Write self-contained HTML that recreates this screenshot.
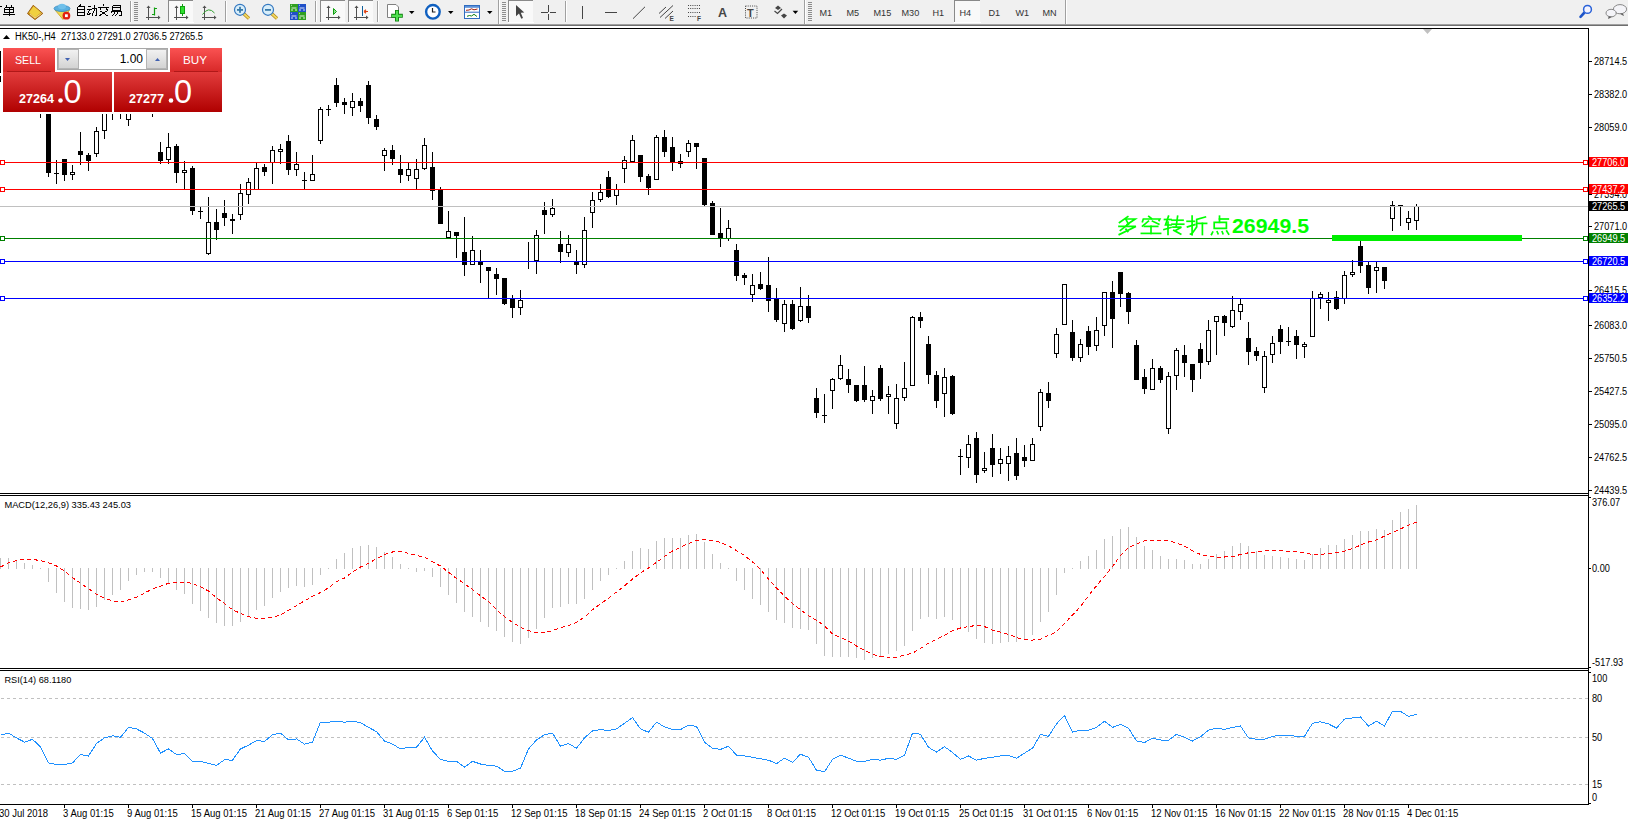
<!DOCTYPE html>
<html><head><meta charset="utf-8">
<style>
html,body{margin:0;padding:0;width:1628px;height:825px;overflow:hidden;background:#fff;}
svg{display:block;position:absolute;left:0;top:0;}
text{font-family:"Liberation Sans", sans-serif;}
</style></head><body>
<svg width="1628" height="825" viewBox="0 0 1628 825">
<rect x="0" y="0" width="1628" height="825" fill="#fff"/>

<rect x="0" y="0" width="1628" height="24" fill="#f0f0f0"/>
<rect x="0" y="24" width="1628" height="1" fill="#a0a0a0"/>
<rect x="0" y="25" width="1628" height="1" fill="#6e6e6e"/>
<rect x="0" y="28" width="1588" height="1" fill="#000"/>
<g shape-rendering="crispEdges" fill="#000">
<rect x="1588" y="28" width="1" height="777"/>
<rect x="0" y="493" width="1589" height="1"/>
<rect x="0" y="495" width="1589" height="1"/>
<rect x="0" y="668" width="1589" height="1"/>
<rect x="0" y="670" width="1589" height="1"/>
<rect x="0" y="804" width="1589" height="1"/>
</g>
<g shape-rendering="crispEdges" fill="#000"><rect x="40" y="100" width="1" height="18"/><rect x="38" y="100" width="5" height="5"/><rect x="48" y="90" width="1" height="87"/><rect x="46" y="95" width="5" height="78"/><rect x="56" y="160" width="1" height="24"/><rect x="54" y="173" width="5" height="1"/><rect x="64" y="159" width="1" height="22"/><rect x="62" y="159" width="5" height="16"/><rect x="70" y="172" width="5" height="1"/><rect x="70" y="174" width="5" height="1"/><rect x="70" y="172" width="1" height="3"/><rect x="74" y="172" width="1" height="3"/><rect x="72" y="165" width="1" height="7"/><rect x="72" y="175" width="1" height="5"/><rect x="80" y="132" width="1" height="33"/><rect x="78" y="151" width="5" height="4"/><rect x="88" y="153" width="1" height="18"/><rect x="86" y="155" width="5" height="6"/><rect x="94" y="131" width="5" height="1"/><rect x="94" y="153" width="5" height="1"/><rect x="94" y="131" width="1" height="23"/><rect x="98" y="131" width="1" height="23"/><rect x="96" y="127" width="1" height="4"/><rect x="96" y="154" width="1" height="3"/><rect x="102" y="100" width="5" height="1"/><rect x="102" y="130" width="5" height="1"/><rect x="102" y="100" width="1" height="31"/><rect x="106" y="100" width="1" height="31"/><rect x="104" y="90" width="1" height="10"/><rect x="104" y="131" width="1" height="8"/><rect x="112" y="90" width="1" height="30"/><rect x="110" y="95" width="5" height="10"/><rect x="120" y="90" width="1" height="29"/><rect x="118" y="95" width="5" height="10"/><rect x="126" y="100" width="5" height="1"/><rect x="126" y="119" width="5" height="1"/><rect x="126" y="100" width="1" height="20"/><rect x="130" y="100" width="1" height="20"/><rect x="128" y="90" width="1" height="10"/><rect x="128" y="120" width="1" height="6"/><rect x="152" y="90" width="1" height="27"/><rect x="150" y="95" width="5" height="10"/><rect x="160" y="142" width="1" height="22"/><rect x="158" y="152" width="5" height="9"/><rect x="166" y="147" width="5" height="1"/><rect x="166" y="159" width="5" height="1"/><rect x="166" y="147" width="1" height="13"/><rect x="170" y="147" width="1" height="13"/><rect x="168" y="133" width="1" height="14"/><rect x="168" y="160" width="1" height="4"/><rect x="176" y="144" width="1" height="39"/><rect x="174" y="146" width="5" height="27"/><rect x="182" y="170" width="5" height="1"/><rect x="182" y="172" width="5" height="1"/><rect x="182" y="170" width="1" height="3"/><rect x="186" y="170" width="1" height="3"/><rect x="184" y="161" width="1" height="9"/><rect x="184" y="173" width="1" height="16"/><rect x="192" y="166" width="1" height="49"/><rect x="190" y="168" width="5" height="43"/><rect x="200" y="206" width="1" height="13"/><rect x="198" y="211" width="5" height="1"/><rect x="206" y="222" width="5" height="1"/><rect x="206" y="253" width="5" height="1"/><rect x="206" y="222" width="1" height="32"/><rect x="210" y="222" width="1" height="32"/><rect x="208" y="197" width="1" height="25"/><rect x="208" y="254" width="1" height="1"/><rect x="216" y="209" width="1" height="31"/><rect x="214" y="222" width="5" height="8"/><rect x="224" y="200" width="1" height="26"/><rect x="222" y="213" width="5" height="5"/><rect x="232" y="214" width="1" height="20"/><rect x="230" y="219" width="5" height="2"/><rect x="238" y="193" width="5" height="1"/><rect x="238" y="214" width="5" height="1"/><rect x="238" y="193" width="1" height="22"/><rect x="242" y="193" width="1" height="22"/><rect x="240" y="184" width="1" height="9"/><rect x="240" y="215" width="1" height="5"/><rect x="246" y="182" width="5" height="1"/><rect x="246" y="194" width="5" height="1"/><rect x="246" y="182" width="1" height="13"/><rect x="250" y="182" width="1" height="13"/><rect x="248" y="178" width="1" height="4"/><rect x="248" y="195" width="1" height="9"/><rect x="254" y="168" width="5" height="1"/><rect x="254" y="189" width="5" height="1"/><rect x="254" y="168" width="1" height="22"/><rect x="258" y="168" width="1" height="22"/><rect x="256" y="163" width="1" height="5"/><rect x="264" y="164" width="1" height="12"/><rect x="262" y="167" width="5" height="5"/><rect x="270" y="150" width="5" height="1"/><rect x="270" y="162" width="5" height="1"/><rect x="270" y="150" width="1" height="13"/><rect x="274" y="150" width="1" height="13"/><rect x="272" y="146" width="1" height="4"/><rect x="272" y="163" width="1" height="21"/><rect x="278" y="149" width="5" height="1"/><rect x="278" y="151" width="5" height="1"/><rect x="278" y="149" width="1" height="3"/><rect x="282" y="149" width="1" height="3"/><rect x="280" y="144" width="1" height="5"/><rect x="280" y="152" width="1" height="12"/><rect x="288" y="135" width="1" height="40"/><rect x="286" y="141" width="5" height="29"/><rect x="294" y="164" width="5" height="1"/><rect x="294" y="169" width="5" height="1"/><rect x="294" y="164" width="1" height="6"/><rect x="298" y="164" width="1" height="6"/><rect x="296" y="152" width="1" height="12"/><rect x="296" y="170" width="1" height="6"/><rect x="304" y="172" width="1" height="18"/><rect x="302" y="180" width="5" height="1"/><rect x="310" y="174" width="5" height="1"/><rect x="310" y="180" width="5" height="1"/><rect x="310" y="174" width="1" height="7"/><rect x="314" y="174" width="1" height="7"/><rect x="312" y="155" width="1" height="19"/><rect x="318" y="109" width="5" height="1"/><rect x="318" y="140" width="5" height="1"/><rect x="318" y="109" width="1" height="32"/><rect x="322" y="109" width="1" height="32"/><rect x="320" y="107" width="1" height="2"/><rect x="320" y="141" width="1" height="3"/><rect x="328" y="105" width="1" height="11"/><rect x="326" y="109" width="5" height="1"/><rect x="336" y="78" width="1" height="29"/><rect x="334" y="85" width="5" height="18"/><rect x="344" y="98" width="1" height="16"/><rect x="342" y="102" width="5" height="3"/><rect x="350" y="101" width="5" height="1"/><rect x="350" y="107" width="5" height="1"/><rect x="350" y="101" width="1" height="7"/><rect x="354" y="101" width="1" height="7"/><rect x="352" y="93" width="1" height="8"/><rect x="352" y="108" width="1" height="8"/><rect x="360" y="98" width="1" height="14"/><rect x="358" y="101" width="5" height="5"/><rect x="368" y="81" width="1" height="43"/><rect x="366" y="85" width="5" height="33"/><rect x="376" y="115" width="1" height="15"/><rect x="374" y="119" width="5" height="8"/><rect x="382" y="150" width="5" height="1"/><rect x="382" y="155" width="5" height="1"/><rect x="382" y="150" width="1" height="6"/><rect x="386" y="150" width="1" height="6"/><rect x="384" y="148" width="1" height="2"/><rect x="384" y="156" width="1" height="15"/><rect x="392" y="145" width="1" height="20"/><rect x="390" y="150" width="5" height="9"/><rect x="400" y="155" width="1" height="28"/><rect x="398" y="169" width="5" height="6"/><rect x="406" y="169" width="5" height="1"/><rect x="406" y="175" width="5" height="1"/><rect x="406" y="169" width="1" height="7"/><rect x="410" y="169" width="1" height="7"/><rect x="408" y="163" width="1" height="6"/><rect x="408" y="176" width="1" height="5"/><rect x="414" y="169" width="5" height="1"/><rect x="414" y="178" width="5" height="1"/><rect x="414" y="169" width="1" height="10"/><rect x="418" y="169" width="1" height="10"/><rect x="416" y="159" width="1" height="10"/><rect x="416" y="179" width="1" height="10"/><rect x="422" y="145" width="5" height="1"/><rect x="422" y="168" width="5" height="1"/><rect x="422" y="145" width="1" height="24"/><rect x="426" y="145" width="1" height="24"/><rect x="424" y="138" width="1" height="7"/><rect x="424" y="169" width="1" height="1"/><rect x="432" y="152" width="1" height="48"/><rect x="430" y="167" width="5" height="24"/><rect x="440" y="187" width="1" height="37"/><rect x="438" y="190" width="5" height="34"/><rect x="446" y="231" width="5" height="1"/><rect x="446" y="237" width="5" height="1"/><rect x="446" y="231" width="1" height="7"/><rect x="450" y="231" width="1" height="7"/><rect x="448" y="211" width="1" height="20"/><rect x="456" y="232" width="1" height="26"/><rect x="454" y="232" width="5" height="4"/><rect x="464" y="217" width="1" height="59"/><rect x="462" y="252" width="5" height="13"/><rect x="470" y="250" width="5" height="1"/><rect x="470" y="264" width="5" height="1"/><rect x="470" y="250" width="1" height="15"/><rect x="474" y="250" width="1" height="15"/><rect x="472" y="236" width="1" height="14"/><rect x="480" y="250" width="1" height="33"/><rect x="478" y="262" width="5" height="3"/><rect x="488" y="267" width="1" height="31"/><rect x="486" y="267" width="5" height="4"/><rect x="496" y="268" width="1" height="27"/><rect x="494" y="274" width="5" height="5"/><rect x="504" y="278" width="1" height="27"/><rect x="502" y="278" width="5" height="26"/><rect x="512" y="295" width="1" height="23"/><rect x="510" y="298" width="5" height="10"/><rect x="518" y="300" width="5" height="1"/><rect x="518" y="307" width="5" height="1"/><rect x="518" y="300" width="1" height="8"/><rect x="522" y="300" width="1" height="8"/><rect x="520" y="290" width="1" height="10"/><rect x="520" y="308" width="1" height="7"/><rect x="528" y="242" width="1" height="27"/><rect x="526" y="261" width="5" height="1"/><rect x="534" y="235" width="5" height="1"/><rect x="534" y="260" width="5" height="1"/><rect x="534" y="235" width="1" height="26"/><rect x="538" y="235" width="1" height="26"/><rect x="536" y="230" width="1" height="5"/><rect x="536" y="261" width="1" height="13"/><rect x="544" y="202" width="1" height="32"/><rect x="542" y="210" width="5" height="5"/><rect x="550" y="208" width="5" height="1"/><rect x="550" y="214" width="5" height="1"/><rect x="550" y="208" width="1" height="7"/><rect x="554" y="208" width="1" height="7"/><rect x="552" y="199" width="1" height="9"/><rect x="552" y="215" width="1" height="2"/><rect x="560" y="231" width="1" height="32"/><rect x="558" y="244" width="5" height="8"/><rect x="566" y="244" width="5" height="1"/><rect x="566" y="252" width="5" height="1"/><rect x="566" y="244" width="1" height="9"/><rect x="570" y="244" width="1" height="9"/><rect x="568" y="235" width="1" height="9"/><rect x="568" y="253" width="1" height="4"/><rect x="576" y="250" width="1" height="24"/><rect x="574" y="262" width="5" height="3"/><rect x="582" y="230" width="5" height="1"/><rect x="582" y="264" width="5" height="1"/><rect x="582" y="230" width="1" height="35"/><rect x="586" y="230" width="1" height="35"/><rect x="584" y="217" width="1" height="13"/><rect x="584" y="265" width="1" height="3"/><rect x="590" y="200" width="5" height="1"/><rect x="590" y="212" width="5" height="1"/><rect x="590" y="200" width="1" height="13"/><rect x="594" y="200" width="1" height="13"/><rect x="592" y="192" width="1" height="8"/><rect x="592" y="213" width="1" height="15"/><rect x="598" y="192" width="5" height="1"/><rect x="598" y="199" width="5" height="1"/><rect x="598" y="192" width="1" height="8"/><rect x="602" y="192" width="1" height="8"/><rect x="600" y="184" width="1" height="8"/><rect x="600" y="200" width="1" height="2"/><rect x="608" y="171" width="1" height="27"/><rect x="606" y="177" width="5" height="20"/><rect x="614" y="189" width="5" height="1"/><rect x="614" y="195" width="5" height="1"/><rect x="614" y="189" width="1" height="7"/><rect x="618" y="189" width="1" height="7"/><rect x="616" y="184" width="1" height="5"/><rect x="616" y="196" width="1" height="9"/><rect x="622" y="160" width="5" height="1"/><rect x="622" y="168" width="5" height="1"/><rect x="622" y="160" width="1" height="9"/><rect x="626" y="160" width="1" height="9"/><rect x="624" y="156" width="1" height="4"/><rect x="624" y="169" width="1" height="14"/><rect x="630" y="140" width="5" height="1"/><rect x="630" y="161" width="5" height="1"/><rect x="630" y="140" width="1" height="22"/><rect x="634" y="140" width="1" height="22"/><rect x="632" y="135" width="1" height="5"/><rect x="640" y="155" width="1" height="27"/><rect x="638" y="155" width="5" height="22"/><rect x="648" y="174" width="1" height="21"/><rect x="646" y="176" width="5" height="12"/><rect x="654" y="137" width="5" height="1"/><rect x="654" y="179" width="5" height="1"/><rect x="654" y="137" width="1" height="43"/><rect x="658" y="137" width="1" height="43"/><rect x="656" y="135" width="1" height="2"/><rect x="664" y="130" width="1" height="27"/><rect x="662" y="137" width="5" height="15"/><rect x="672" y="137" width="1" height="34"/><rect x="670" y="147" width="5" height="16"/><rect x="680" y="154" width="1" height="14"/><rect x="678" y="161" width="5" height="3"/><rect x="686" y="143" width="5" height="1"/><rect x="686" y="151" width="5" height="1"/><rect x="686" y="143" width="1" height="9"/><rect x="690" y="143" width="1" height="9"/><rect x="688" y="140" width="1" height="3"/><rect x="688" y="152" width="1" height="5"/><rect x="696" y="143" width="1" height="26"/><rect x="694" y="143" width="5" height="4"/><rect x="704" y="158" width="1" height="48"/><rect x="702" y="158" width="5" height="47"/><rect x="712" y="201" width="1" height="34"/><rect x="710" y="203" width="5" height="32"/><rect x="720" y="208" width="1" height="39"/><rect x="718" y="233" width="5" height="6"/><rect x="726" y="228" width="5" height="1"/><rect x="726" y="238" width="5" height="1"/><rect x="726" y="228" width="1" height="11"/><rect x="730" y="228" width="1" height="11"/><rect x="728" y="220" width="1" height="8"/><rect x="728" y="239" width="1" height="2"/><rect x="736" y="244" width="1" height="37"/><rect x="734" y="250" width="5" height="26"/><rect x="744" y="273" width="1" height="12"/><rect x="742" y="275" width="5" height="3"/><rect x="750" y="285" width="5" height="1"/><rect x="750" y="294" width="5" height="1"/><rect x="750" y="285" width="1" height="10"/><rect x="754" y="285" width="1" height="10"/><rect x="752" y="274" width="1" height="11"/><rect x="752" y="295" width="1" height="7"/><rect x="760" y="272" width="1" height="18"/><rect x="758" y="284" width="5" height="5"/><rect x="768" y="257" width="1" height="55"/><rect x="766" y="285" width="5" height="16"/><rect x="776" y="288" width="1" height="34"/><rect x="774" y="299" width="5" height="21"/><rect x="782" y="304" width="5" height="1"/><rect x="782" y="323" width="5" height="1"/><rect x="782" y="304" width="1" height="20"/><rect x="786" y="304" width="1" height="20"/><rect x="784" y="300" width="1" height="4"/><rect x="784" y="324" width="1" height="8"/><rect x="792" y="300" width="1" height="30"/><rect x="790" y="304" width="5" height="25"/><rect x="798" y="306" width="5" height="1"/><rect x="798" y="320" width="5" height="1"/><rect x="798" y="306" width="1" height="15"/><rect x="802" y="306" width="1" height="15"/><rect x="800" y="287" width="1" height="19"/><rect x="800" y="321" width="1" height="1"/><rect x="808" y="295" width="1" height="28"/><rect x="806" y="306" width="5" height="12"/><rect x="816" y="388" width="1" height="30"/><rect x="814" y="398" width="5" height="15"/><rect x="824" y="394" width="1" height="29"/><rect x="822" y="415" width="5" height="1"/><rect x="830" y="379" width="5" height="1"/><rect x="830" y="390" width="5" height="1"/><rect x="830" y="379" width="1" height="12"/><rect x="834" y="379" width="1" height="12"/><rect x="832" y="378" width="1" height="1"/><rect x="832" y="391" width="1" height="18"/><rect x="838" y="365" width="5" height="1"/><rect x="838" y="378" width="5" height="1"/><rect x="838" y="365" width="1" height="14"/><rect x="842" y="365" width="1" height="14"/><rect x="840" y="355" width="1" height="10"/><rect x="840" y="379" width="1" height="1"/><rect x="848" y="369" width="1" height="24"/><rect x="846" y="379" width="5" height="6"/><rect x="856" y="385" width="1" height="17"/><rect x="854" y="385" width="5" height="16"/><rect x="864" y="366" width="1" height="36"/><rect x="862" y="385" width="5" height="15"/><rect x="870" y="396" width="5" height="1"/><rect x="870" y="400" width="5" height="1"/><rect x="870" y="396" width="1" height="5"/><rect x="874" y="396" width="1" height="5"/><rect x="872" y="390" width="1" height="6"/><rect x="872" y="401" width="1" height="13"/><rect x="880" y="365" width="1" height="36"/><rect x="878" y="368" width="5" height="31"/><rect x="886" y="394" width="5" height="1"/><rect x="886" y="396" width="5" height="1"/><rect x="886" y="394" width="1" height="3"/><rect x="890" y="394" width="1" height="3"/><rect x="888" y="386" width="1" height="8"/><rect x="888" y="397" width="1" height="17"/><rect x="894" y="398" width="5" height="1"/><rect x="894" y="423" width="5" height="1"/><rect x="894" y="398" width="1" height="26"/><rect x="898" y="398" width="1" height="26"/><rect x="896" y="384" width="1" height="14"/><rect x="896" y="424" width="1" height="5"/><rect x="902" y="388" width="5" height="1"/><rect x="902" y="397" width="5" height="1"/><rect x="902" y="388" width="1" height="10"/><rect x="906" y="388" width="1" height="10"/><rect x="904" y="362" width="1" height="26"/><rect x="904" y="398" width="1" height="3"/><rect x="910" y="317" width="5" height="1"/><rect x="910" y="385" width="5" height="1"/><rect x="910" y="317" width="1" height="69"/><rect x="914" y="317" width="1" height="69"/><rect x="912" y="316" width="1" height="1"/><rect x="920" y="312" width="1" height="16"/><rect x="918" y="317" width="5" height="4"/><rect x="928" y="336" width="1" height="48"/><rect x="926" y="344" width="5" height="31"/><rect x="936" y="371" width="1" height="37"/><rect x="934" y="375" width="5" height="26"/><rect x="942" y="377" width="5" height="1"/><rect x="942" y="393" width="5" height="1"/><rect x="942" y="377" width="1" height="17"/><rect x="946" y="377" width="1" height="17"/><rect x="944" y="368" width="1" height="9"/><rect x="944" y="394" width="1" height="23"/><rect x="952" y="375" width="1" height="40"/><rect x="950" y="376" width="5" height="38"/><rect x="960" y="449" width="1" height="26"/><rect x="958" y="456" width="5" height="1"/><rect x="966" y="444" width="5" height="1"/><rect x="966" y="457" width="5" height="1"/><rect x="966" y="444" width="1" height="14"/><rect x="970" y="444" width="1" height="14"/><rect x="968" y="435" width="1" height="9"/><rect x="968" y="458" width="1" height="10"/><rect x="976" y="432" width="1" height="51"/><rect x="974" y="438" width="5" height="37"/><rect x="982" y="468" width="5" height="1"/><rect x="982" y="470" width="5" height="1"/><rect x="982" y="468" width="1" height="3"/><rect x="986" y="468" width="1" height="3"/><rect x="984" y="452" width="1" height="16"/><rect x="984" y="471" width="1" height="2"/><rect x="992" y="434" width="1" height="43"/><rect x="990" y="448" width="5" height="17"/><rect x="998" y="459" width="5" height="1"/><rect x="998" y="463" width="5" height="1"/><rect x="998" y="459" width="1" height="5"/><rect x="1002" y="459" width="1" height="5"/><rect x="1000" y="448" width="1" height="11"/><rect x="1000" y="464" width="1" height="10"/><rect x="1006" y="456" width="5" height="1"/><rect x="1006" y="463" width="5" height="1"/><rect x="1006" y="456" width="1" height="8"/><rect x="1010" y="456" width="1" height="8"/><rect x="1008" y="446" width="1" height="10"/><rect x="1008" y="464" width="1" height="17"/><rect x="1016" y="438" width="1" height="42"/><rect x="1014" y="453" width="5" height="23"/><rect x="1024" y="445" width="1" height="22"/><rect x="1022" y="457" width="5" height="4"/><rect x="1030" y="444" width="5" height="1"/><rect x="1030" y="460" width="5" height="1"/><rect x="1030" y="444" width="1" height="17"/><rect x="1034" y="444" width="1" height="17"/><rect x="1032" y="438" width="1" height="6"/><rect x="1038" y="392" width="5" height="1"/><rect x="1038" y="426" width="5" height="1"/><rect x="1038" y="392" width="1" height="35"/><rect x="1042" y="392" width="1" height="35"/><rect x="1040" y="389" width="1" height="3"/><rect x="1040" y="427" width="1" height="4"/><rect x="1048" y="382" width="1" height="26"/><rect x="1046" y="393" width="5" height="8"/><rect x="1054" y="334" width="5" height="1"/><rect x="1054" y="353" width="5" height="1"/><rect x="1054" y="334" width="1" height="20"/><rect x="1058" y="334" width="1" height="20"/><rect x="1056" y="328" width="1" height="6"/><rect x="1056" y="354" width="1" height="4"/><rect x="1062" y="284" width="5" height="1"/><rect x="1062" y="324" width="5" height="1"/><rect x="1062" y="284" width="1" height="41"/><rect x="1066" y="284" width="1" height="41"/><rect x="1072" y="320" width="1" height="41"/><rect x="1070" y="332" width="5" height="26"/><rect x="1078" y="344" width="5" height="1"/><rect x="1078" y="357" width="5" height="1"/><rect x="1078" y="344" width="1" height="14"/><rect x="1082" y="344" width="1" height="14"/><rect x="1080" y="339" width="1" height="5"/><rect x="1080" y="358" width="1" height="4"/><rect x="1088" y="326" width="1" height="29"/><rect x="1086" y="331" width="5" height="16"/><rect x="1094" y="330" width="5" height="1"/><rect x="1094" y="345" width="5" height="1"/><rect x="1094" y="330" width="1" height="16"/><rect x="1098" y="330" width="1" height="16"/><rect x="1096" y="317" width="1" height="13"/><rect x="1096" y="346" width="1" height="5"/><rect x="1102" y="292" width="5" height="1"/><rect x="1102" y="325" width="5" height="1"/><rect x="1102" y="292" width="1" height="34"/><rect x="1106" y="292" width="1" height="34"/><rect x="1104" y="326" width="1" height="10"/><rect x="1112" y="281" width="1" height="67"/><rect x="1110" y="292" width="5" height="27"/><rect x="1120" y="272" width="1" height="35"/><rect x="1118" y="272" width="5" height="22"/><rect x="1128" y="292" width="1" height="32"/><rect x="1126" y="293" width="5" height="19"/><rect x="1136" y="340" width="1" height="40"/><rect x="1134" y="345" width="5" height="35"/><rect x="1144" y="369" width="1" height="25"/><rect x="1142" y="377" width="5" height="12"/><rect x="1150" y="368" width="5" height="1"/><rect x="1150" y="389" width="5" height="1"/><rect x="1150" y="368" width="1" height="22"/><rect x="1154" y="368" width="1" height="22"/><rect x="1152" y="359" width="1" height="9"/><rect x="1160" y="366" width="1" height="17"/><rect x="1158" y="368" width="5" height="12"/><rect x="1166" y="376" width="5" height="1"/><rect x="1166" y="428" width="5" height="1"/><rect x="1166" y="376" width="1" height="53"/><rect x="1170" y="376" width="1" height="53"/><rect x="1168" y="372" width="1" height="4"/><rect x="1168" y="429" width="1" height="5"/><rect x="1174" y="350" width="5" height="1"/><rect x="1174" y="375" width="5" height="1"/><rect x="1174" y="350" width="1" height="26"/><rect x="1178" y="350" width="1" height="26"/><rect x="1176" y="348" width="1" height="2"/><rect x="1176" y="376" width="1" height="14"/><rect x="1184" y="345" width="1" height="32"/><rect x="1182" y="355" width="5" height="8"/><rect x="1192" y="364" width="1" height="28"/><rect x="1190" y="364" width="5" height="16"/><rect x="1200" y="343" width="1" height="36"/><rect x="1198" y="349" width="5" height="14"/><rect x="1206" y="330" width="5" height="1"/><rect x="1206" y="361" width="5" height="1"/><rect x="1206" y="330" width="1" height="32"/><rect x="1210" y="330" width="1" height="32"/><rect x="1208" y="320" width="1" height="10"/><rect x="1208" y="362" width="1" height="3"/><rect x="1214" y="316" width="5" height="1"/><rect x="1214" y="321" width="5" height="1"/><rect x="1214" y="316" width="1" height="6"/><rect x="1218" y="316" width="1" height="6"/><rect x="1216" y="322" width="1" height="33"/><rect x="1224" y="315" width="1" height="21"/><rect x="1222" y="316" width="5" height="7"/><rect x="1230" y="310" width="5" height="1"/><rect x="1230" y="326" width="5" height="1"/><rect x="1230" y="310" width="1" height="17"/><rect x="1234" y="310" width="1" height="17"/><rect x="1232" y="296" width="1" height="14"/><rect x="1232" y="327" width="1" height="1"/><rect x="1238" y="304" width="5" height="1"/><rect x="1238" y="311" width="5" height="1"/><rect x="1238" y="304" width="1" height="8"/><rect x="1242" y="304" width="1" height="8"/><rect x="1240" y="299" width="1" height="5"/><rect x="1240" y="312" width="1" height="8"/><rect x="1248" y="322" width="1" height="43"/><rect x="1246" y="338" width="5" height="14"/><rect x="1256" y="347" width="1" height="14"/><rect x="1254" y="351" width="5" height="5"/><rect x="1262" y="356" width="5" height="1"/><rect x="1262" y="387" width="5" height="1"/><rect x="1262" y="356" width="1" height="32"/><rect x="1266" y="356" width="1" height="32"/><rect x="1264" y="351" width="1" height="5"/><rect x="1264" y="388" width="1" height="5"/><rect x="1270" y="343" width="5" height="1"/><rect x="1270" y="354" width="5" height="1"/><rect x="1270" y="343" width="1" height="12"/><rect x="1274" y="343" width="1" height="12"/><rect x="1272" y="336" width="1" height="7"/><rect x="1272" y="355" width="1" height="8"/><rect x="1280" y="325" width="1" height="29"/><rect x="1278" y="329" width="5" height="13"/><rect x="1288" y="327" width="1" height="19"/><rect x="1286" y="341" width="5" height="1"/><rect x="1296" y="330" width="1" height="29"/><rect x="1294" y="336" width="5" height="9"/><rect x="1302" y="344" width="5" height="1"/><rect x="1302" y="346" width="5" height="1"/><rect x="1302" y="344" width="1" height="3"/><rect x="1306" y="344" width="1" height="3"/><rect x="1304" y="342" width="1" height="2"/><rect x="1304" y="347" width="1" height="11"/><rect x="1310" y="298" width="5" height="1"/><rect x="1310" y="336" width="5" height="1"/><rect x="1310" y="298" width="1" height="39"/><rect x="1314" y="298" width="1" height="39"/><rect x="1312" y="291" width="1" height="7"/><rect x="1318" y="294" width="5" height="1"/><rect x="1318" y="297" width="5" height="1"/><rect x="1318" y="294" width="1" height="4"/><rect x="1322" y="294" width="1" height="4"/><rect x="1320" y="292" width="1" height="2"/><rect x="1320" y="298" width="1" height="11"/><rect x="1326" y="300" width="5" height="1"/><rect x="1326" y="302" width="5" height="1"/><rect x="1326" y="300" width="1" height="3"/><rect x="1330" y="300" width="1" height="3"/><rect x="1328" y="292" width="1" height="8"/><rect x="1328" y="303" width="1" height="18"/><rect x="1336" y="291" width="1" height="19"/><rect x="1334" y="297" width="5" height="12"/><rect x="1342" y="275" width="5" height="1"/><rect x="1342" y="298" width="5" height="1"/><rect x="1342" y="275" width="1" height="24"/><rect x="1346" y="275" width="1" height="24"/><rect x="1344" y="271" width="1" height="4"/><rect x="1344" y="299" width="1" height="5"/><rect x="1350" y="272" width="5" height="1"/><rect x="1350" y="274" width="5" height="1"/><rect x="1350" y="272" width="1" height="3"/><rect x="1354" y="272" width="1" height="3"/><rect x="1352" y="260" width="1" height="12"/><rect x="1352" y="275" width="1" height="2"/><rect x="1360" y="241" width="1" height="32"/><rect x="1358" y="246" width="5" height="20"/><rect x="1368" y="262" width="1" height="32"/><rect x="1366" y="265" width="5" height="23"/><rect x="1374" y="267" width="5" height="1"/><rect x="1374" y="270" width="5" height="1"/><rect x="1374" y="267" width="1" height="4"/><rect x="1378" y="267" width="1" height="4"/><rect x="1376" y="262" width="1" height="5"/><rect x="1376" y="271" width="1" height="22"/><rect x="1384" y="267" width="1" height="22"/><rect x="1382" y="267" width="5" height="14"/><rect x="1390" y="205" width="5" height="1"/><rect x="1390" y="218" width="5" height="1"/><rect x="1390" y="205" width="1" height="14"/><rect x="1394" y="205" width="1" height="14"/><rect x="1392" y="201" width="1" height="4"/><rect x="1392" y="219" width="1" height="12"/><rect x="1400" y="205" width="1" height="21"/><rect x="1398" y="205" width="5" height="1"/><rect x="1406" y="218" width="5" height="1"/><rect x="1406" y="222" width="5" height="1"/><rect x="1406" y="218" width="1" height="5"/><rect x="1410" y="218" width="1" height="5"/><rect x="1408" y="211" width="1" height="7"/><rect x="1408" y="223" width="1" height="7"/><rect x="1414" y="206" width="5" height="1"/><rect x="1414" y="220" width="5" height="1"/><rect x="1414" y="206" width="1" height="15"/><rect x="1418" y="206" width="1" height="15"/><rect x="1416" y="204" width="1" height="2"/><rect x="1416" y="221" width="1" height="9"/></g>
<rect x="0" y="51" width="1" height="22" fill="#000"/><rect x="0" y="76" width="1" height="6" fill="#000"/>
<g shape-rendering="crispEdges">
<rect x="0" y="206" width="1588" height="1" fill="#c0c0c0"/>
<rect x="0" y="162" width="1588" height="1" fill="#ff0000"/>
<rect x="0" y="189" width="1588" height="1" fill="#ff0000"/>
<rect x="0" y="238" width="1588" height="1" fill="#008000"/>
<rect x="0" y="261" width="1588" height="1" fill="#0000ff"/>
<rect x="0" y="298" width="1588" height="1" fill="#0000ff"/>
</g>
<g shape-rendering="crispEdges" fill="#fff">
<rect x="0.5" y="160.5" width="4" height="4" stroke="#ff0000"/>
<rect x="1583.5" y="160.5" width="4" height="4" stroke="#ff0000"/>
<rect x="0.5" y="187.5" width="4" height="4" stroke="#ff0000"/>
<rect x="1583.5" y="187.5" width="4" height="4" stroke="#ff0000"/>
<rect x="0.5" y="236.5" width="4" height="4" stroke="#008000"/>
<rect x="1583.5" y="236.5" width="4" height="4" stroke="#008000"/>
<rect x="0.5" y="259.5" width="4" height="4" stroke="#0000ff"/>
<rect x="1583.5" y="259.5" width="4" height="4" stroke="#0000ff"/>
<rect x="0.5" y="296.5" width="4" height="4" stroke="#0000ff"/>
<rect x="1583.5" y="296.5" width="4" height="4" stroke="#0000ff"/>
</g>
<rect x="1332" y="235" width="190" height="6" fill="#00ee00"/>
<g fill="none" stroke="#00ff00" stroke-width="1.7" stroke-linecap="square" stroke-linejoin="miter"><polyline points="1127.8,216.6 1119.5,222.5"/><polyline points="1126.7,219.0 1135.2,219.0 1127.1,224.5"/><polyline points="1126.0,219.7 1128.5,224.2"/><polyline points="1119.0,226.4 1135.9,226.4 1119.3,234.5"/><polyline points="1120.4,230.4 1127.4,224.9"/><polyline points="1126.0,229.3 1127.8,231.5"/><polyline points="1148.8,216.4 1151.4,218.5"/><polyline points="1142.5,221.6 1143.3,219.0 1159.9,219.0 1159.1,220.5"/><polyline points="1148.4,221.2 1142.5,226.0"/><polyline points="1152.5,221.2 1158.8,224.2"/><polyline points="1144.4,226.4 1157.7,226.4"/><polyline points="1151.0,226.4 1151.0,233.4"/><polyline points="1141.4,233.4 1160.6,233.4"/><polyline points="1164.5,219.5 1171.0,219.5"/><polyline points="1168.5,216.2 1165.5,225.0 1171.0,225.0"/><polyline points="1168.0,222.0 1168.0,234.5"/><polyline points="1164.0,229.5 1171.0,227.5"/><polyline points="1172.0,220.2 1183.0,220.2"/><polyline points="1177.6,216.2 1176.1,227.0"/><polyline points="1172.0,224.2 1183.7,224.2"/><polyline points="1173.0,227.2 1181.4,227.2 1175.7,230.3"/><polyline points="1173.8,230.3 1180.7,234.1"/><polyline points="1187.1,221.3 1194.4,221.3"/><polyline points="1192.1,216.2 1192.1,234.5 1190.5,234.0"/><polyline points="1187.5,226.9 1194.8,224.6"/><polyline points="1205.4,217.0 1196.7,219.5 1196.7,227.0 1191.5,234.3"/><polyline points="1196.7,223.4 1206.6,223.4"/><polyline points="1202.4,223.4 1202.4,234.5"/><polyline points="1219.5,216.2 1219.5,222.3"/><polyline points="1219.5,219.0 1228.3,219.0"/><polyline points="1214.2,222.3 1226.4,222.3 1226.4,228.4 1214.2,228.4 1214.2,222.3"/><polyline points="1212.7,232.2 1211.5,234.5"/><polyline points="1217.2,231.8 1218.0,233.7"/><polyline points="1222.2,231.8 1222.9,233.7"/><polyline points="1226.7,231.0 1228.6,234.1"/></g><text x="1232" y="232.5" font-size="20.5" font-weight="bold" fill="#00ff00" textLength="77" lengthAdjust="spacingAndGlyphs">26949.5</text>
<g shape-rendering="crispEdges" fill="#c0c0c0"><rect x="0" y="558" width="1" height="11"/><rect x="8" y="558" width="1" height="11"/><rect x="16" y="560" width="1" height="9"/><rect x="24" y="563" width="1" height="6"/><rect x="32" y="565" width="1" height="4"/><rect x="40" y="568" width="1" height="1"/><rect x="48" y="568" width="1" height="14"/><rect x="56" y="568" width="1" height="25"/><rect x="64" y="568" width="1" height="34"/><rect x="72" y="568" width="1" height="40"/><rect x="80" y="568" width="1" height="41"/><rect x="88" y="568" width="1" height="42"/><rect x="96" y="568" width="1" height="39"/><rect x="104" y="568" width="1" height="32"/><rect x="112" y="568" width="1" height="27"/><rect x="120" y="568" width="1" height="22"/><rect x="128" y="568" width="1" height="13"/><rect x="136" y="568" width="1" height="7"/><rect x="144" y="568" width="1" height="4"/><rect x="152" y="568" width="1" height="4"/><rect x="160" y="568" width="1" height="10"/><rect x="168" y="568" width="1" height="15"/><rect x="176" y="568" width="1" height="22"/><rect x="184" y="568" width="1" height="26"/><rect x="192" y="568" width="1" height="36"/><rect x="200" y="568" width="1" height="43"/><rect x="208" y="568" width="1" height="50"/><rect x="216" y="568" width="1" height="55"/><rect x="224" y="568" width="1" height="58"/><rect x="232" y="568" width="1" height="58"/><rect x="240" y="568" width="1" height="54"/><rect x="248" y="568" width="1" height="49"/><rect x="256" y="568" width="1" height="42"/><rect x="264" y="568" width="1" height="38"/><rect x="272" y="568" width="1" height="30"/><rect x="280" y="568" width="1" height="24"/><rect x="288" y="568" width="1" height="20"/><rect x="296" y="568" width="1" height="18"/><rect x="304" y="568" width="1" height="19"/><rect x="312" y="568" width="1" height="17"/><rect x="320" y="568" width="1" height="7"/><rect x="328" y="568" width="1" height="1"/><rect x="336" y="559" width="1" height="10"/><rect x="344" y="553" width="1" height="16"/><rect x="352" y="548" width="1" height="21"/><rect x="360" y="546" width="1" height="23"/><rect x="368" y="545" width="1" height="24"/><rect x="376" y="547" width="1" height="22"/><rect x="384" y="552" width="1" height="17"/><rect x="392" y="557" width="1" height="12"/><rect x="400" y="564" width="1" height="5"/><rect x="408" y="568" width="1" height="1"/><rect x="416" y="568" width="1" height="4"/><rect x="424" y="568" width="1" height="3"/><rect x="432" y="568" width="1" height="9"/><rect x="440" y="568" width="1" height="19"/><rect x="448" y="568" width="1" height="27"/><rect x="456" y="568" width="1" height="35"/><rect x="464" y="568" width="1" height="44"/><rect x="472" y="568" width="1" height="49"/><rect x="480" y="568" width="1" height="54"/><rect x="488" y="568" width="1" height="59"/><rect x="496" y="568" width="1" height="63"/><rect x="504" y="568" width="1" height="69"/><rect x="512" y="568" width="1" height="74"/><rect x="520" y="568" width="1" height="76"/><rect x="528" y="568" width="1" height="70"/><rect x="536" y="568" width="1" height="61"/><rect x="544" y="568" width="1" height="50"/><rect x="552" y="568" width="1" height="40"/><rect x="560" y="568" width="1" height="39"/><rect x="568" y="568" width="1" height="36"/><rect x="576" y="568" width="1" height="36"/><rect x="584" y="568" width="1" height="31"/><rect x="592" y="568" width="1" height="22"/><rect x="600" y="568" width="1" height="13"/><rect x="608" y="568" width="1" height="7"/><rect x="616" y="568" width="1" height="1"/><rect x="624" y="561" width="1" height="8"/><rect x="632" y="551" width="1" height="18"/><rect x="640" y="548" width="1" height="21"/><rect x="648" y="549" width="1" height="20"/><rect x="656" y="541" width="1" height="28"/><rect x="664" y="538" width="1" height="31"/><rect x="672" y="538" width="1" height="31"/><rect x="680" y="538" width="1" height="31"/><rect x="688" y="535" width="1" height="34"/><rect x="696" y="534" width="1" height="35"/><rect x="704" y="542" width="1" height="27"/><rect x="712" y="554" width="1" height="15"/><rect x="720" y="563" width="1" height="6"/><rect x="728" y="568" width="1" height="1"/><rect x="736" y="568" width="1" height="13"/><rect x="744" y="568" width="1" height="22"/><rect x="752" y="568" width="1" height="31"/><rect x="760" y="568" width="1" height="37"/><rect x="768" y="568" width="1" height="44"/><rect x="776" y="568" width="1" height="52"/><rect x="784" y="568" width="1" height="55"/><rect x="792" y="568" width="1" height="60"/><rect x="800" y="568" width="1" height="61"/><rect x="808" y="568" width="1" height="62"/><rect x="816" y="568" width="1" height="76"/><rect x="824" y="568" width="1" height="88"/><rect x="832" y="568" width="1" height="89"/><rect x="840" y="568" width="1" height="89"/><rect x="848" y="568" width="1" height="89"/><rect x="856" y="568" width="1" height="90"/><rect x="864" y="568" width="1" height="92"/><rect x="872" y="568" width="1" height="90"/><rect x="880" y="568" width="1" height="89"/><rect x="888" y="568" width="1" height="86"/><rect x="896" y="568" width="1" height="83"/><rect x="904" y="568" width="1" height="78"/><rect x="912" y="568" width="1" height="63"/><rect x="920" y="568" width="1" height="51"/><rect x="928" y="568" width="1" height="49"/><rect x="936" y="568" width="1" height="51"/><rect x="944" y="568" width="1" height="49"/><rect x="952" y="568" width="1" height="52"/><rect x="960" y="568" width="1" height="60"/><rect x="968" y="568" width="1" height="64"/><rect x="976" y="568" width="1" height="71"/><rect x="984" y="568" width="1" height="75"/><rect x="992" y="568" width="1" height="76"/><rect x="1000" y="568" width="1" height="75"/><rect x="1008" y="568" width="1" height="74"/><rect x="1016" y="568" width="1" height="74"/><rect x="1024" y="568" width="1" height="72"/><rect x="1032" y="568" width="1" height="67"/><rect x="1040" y="568" width="1" height="54"/><rect x="1048" y="568" width="1" height="44"/><rect x="1056" y="568" width="1" height="27"/><rect x="1064" y="568" width="1" height="5"/><rect x="1072" y="568" width="1" height="1"/><rect x="1080" y="561" width="1" height="8"/><rect x="1088" y="556" width="1" height="13"/><rect x="1096" y="550" width="1" height="19"/><rect x="1104" y="539" width="1" height="30"/><rect x="1112" y="536" width="1" height="33"/><rect x="1120" y="529" width="1" height="40"/><rect x="1128" y="527" width="1" height="42"/><rect x="1136" y="537" width="1" height="32"/><rect x="1144" y="546" width="1" height="23"/><rect x="1152" y="550" width="1" height="19"/><rect x="1160" y="556" width="1" height="13"/><rect x="1168" y="559" width="1" height="10"/><rect x="1176" y="559" width="1" height="10"/><rect x="1184" y="560" width="1" height="9"/><rect x="1192" y="564" width="1" height="5"/><rect x="1200" y="564" width="1" height="5"/><rect x="1208" y="559" width="1" height="10"/><rect x="1216" y="554" width="1" height="15"/><rect x="1224" y="551" width="1" height="18"/><rect x="1232" y="546" width="1" height="23"/><rect x="1240" y="543" width="1" height="26"/><rect x="1248" y="546" width="1" height="23"/><rect x="1256" y="551" width="1" height="18"/><rect x="1264" y="555" width="1" height="14"/><rect x="1272" y="556" width="1" height="13"/><rect x="1280" y="557" width="1" height="12"/><rect x="1288" y="558" width="1" height="11"/><rect x="1296" y="559" width="1" height="10"/><rect x="1304" y="560" width="1" height="9"/><rect x="1312" y="554" width="1" height="15"/><rect x="1320" y="548" width="1" height="21"/><rect x="1328" y="545" width="1" height="24"/><rect x="1336" y="545" width="1" height="24"/><rect x="1344" y="539" width="1" height="30"/><rect x="1352" y="535" width="1" height="34"/><rect x="1360" y="531" width="1" height="38"/><rect x="1368" y="531" width="1" height="38"/><rect x="1376" y="529" width="1" height="40"/><rect x="1384" y="530" width="1" height="39"/><rect x="1392" y="520" width="1" height="49"/><rect x="1400" y="512" width="1" height="57"/><rect x="1408" y="509" width="1" height="60"/><rect x="1416" y="505" width="1" height="64"/></g>
<polyline points="0.5,567.0 8.5,562.8 16.5,560.7 24.5,559.3 32.5,559.3 40.5,560.7 48.5,562.8 56.5,566.0 64.5,571.2 72.5,577.5 80.5,583.3 88.5,588.5 96.5,594.2 104.5,598.3 112.5,600.8 120.5,602.1 128.5,599.8 136.5,597.3 144.5,593.1 152.5,588.9 160.5,586.2 168.5,583.3 176.5,582.3 184.5,582.3 192.5,583.3 200.5,586.9 208.5,591.0 216.5,597.7 224.5,603.6 232.5,609.8 240.5,613.4 248.5,616.7 256.5,618.2 264.5,618.2 272.5,617.1 280.5,615.0 288.5,610.5 296.5,605.6 304.5,600.8 312.5,596.3 320.5,592.5 328.5,587.9 336.5,581.8 344.5,578.0 352.5,572.2 360.5,567.0 368.5,563.3 376.5,558.7 384.5,554.5 392.5,552.0 400.5,551.6 408.5,553.4 416.5,555.5 424.5,557.0 432.5,561.8 440.5,566.0 448.5,572.2 456.5,578.5 464.5,583.7 472.5,589.6 480.5,595.8 488.5,601.5 496.5,609.8 504.5,616.7 512.5,622.4 520.5,627.2 528.5,630.7 536.5,632.8 544.5,632.8 552.5,630.7 560.5,627.6 568.5,625.5 576.5,622.4 584.5,617.1 592.5,609.8 600.5,603.6 608.5,598.3 616.5,592.1 624.5,585.8 632.5,579.1 640.5,572.9 648.5,568.0 656.5,562.4 664.5,556.6 672.5,551.0 680.5,547.2 688.5,543.6 696.5,540.5 704.5,539.4 712.5,540.5 720.5,542.4 728.5,545.7 736.5,550.7 744.5,555.5 752.5,561.8 760.5,569.5 768.5,579.1 776.5,587.9 784.5,596.3 792.5,603.6 800.5,609.8 808.5,615.5 816.5,620.3 824.5,625.9 832.5,633.8 840.5,637.6 848.5,641.2 856.5,646.0 864.5,650.1 872.5,654.3 880.5,656.4 888.5,657.2 896.5,657.2 904.5,655.1 912.5,653.1 920.5,648.5 928.5,643.2 936.5,639.1 944.5,635.5 952.5,630.7 960.5,628.0 968.5,626.5 976.5,625.5 984.5,626.5 992.5,630.1 1000.5,632.2 1008.5,634.3 1016.5,637.6 1024.5,639.7 1032.5,640.1 1040.5,639.1 1048.5,635.5 1056.5,631.8 1064.5,623.4 1072.5,615.0 1080.5,606.7 1088.5,595.8 1096.5,585.8 1104.5,576.4 1112.5,566.6 1120.5,555.5 1128.5,547.8 1136.5,544.0 1144.5,540.9 1152.5,540.5 1160.5,540.5 1168.5,540.5 1176.5,543.0 1184.5,546.1 1192.5,550.7 1200.5,554.5 1208.5,556.2 1216.5,557.0 1224.5,557.0 1232.5,556.6 1240.5,554.5 1248.5,552.8 1256.5,552.4 1264.5,550.7 1272.5,550.3 1280.5,550.7 1288.5,551.3 1296.5,552.0 1304.5,552.8 1312.5,554.5 1320.5,554.5 1328.5,553.4 1336.5,552.4 1344.5,551.3 1352.5,548.6 1360.5,545.1 1368.5,542.0 1376.5,539.9 1384.5,536.1 1392.5,532.5 1400.5,529.0 1408.5,525.2 1416.5,522.1" fill="none" stroke="#ff0000" stroke-width="1" stroke-dasharray="4 3" shape-rendering="crispEdges"/>
<g shape-rendering="crispEdges">
<line x1="1" y1="698.5" x2="1588" y2="698.5" stroke="#c0c0c0" stroke-dasharray="3 3"/>
<line x1="1" y1="737.5" x2="1588" y2="737.5" stroke="#c0c0c0" stroke-dasharray="3 3"/>
<line x1="1" y1="784.5" x2="1588" y2="784.5" stroke="#c0c0c0" stroke-dasharray="3 3"/>
</g>
<polyline points="0.5,735.2 8.5,733.1 16.5,737.9 24.5,742.1 32.5,739.3 40.5,746.9 48.5,762.9 56.5,764.4 64.5,764.4 72.5,762.9 80.5,754.6 88.5,756.0 96.5,743.5 104.5,737.9 112.5,735.8 120.5,737.3 128.5,727.4 136.5,728.9 144.5,733.1 152.5,738.5 160.5,753.1 168.5,748.9 176.5,754.6 184.5,753.5 192.5,761.3 200.5,761.5 208.5,763.4 216.5,765.4 224.5,759.8 232.5,760.2 240.5,748.9 248.5,745.2 256.5,740.6 264.5,741.4 272.5,734.7 280.5,733.1 288.5,740.0 296.5,738.9 304.5,744.1 312.5,742.1 320.5,722.2 328.5,722.2 336.5,721.2 344.5,722.2 352.5,721.2 360.5,722.6 368.5,727.4 376.5,731.6 384.5,741.0 392.5,744.1 400.5,748.9 408.5,747.3 416.5,747.3 424.5,737.3 432.5,751.0 440.5,759.4 448.5,761.3 456.5,761.3 464.5,767.1 472.5,761.3 480.5,764.0 488.5,765.4 496.5,766.1 504.5,771.3 512.5,771.3 520.5,768.2 528.5,748.9 536.5,740.0 544.5,734.7 552.5,733.1 560.5,746.2 568.5,743.5 576.5,748.3 584.5,737.9 592.5,731.0 600.5,729.5 608.5,730.6 616.5,728.9 624.5,723.3 632.5,717.6 640.5,728.9 648.5,732.2 656.5,722.2 664.5,726.8 672.5,729.5 680.5,729.5 688.5,725.3 696.5,726.4 704.5,742.1 712.5,748.3 720.5,749.4 728.5,746.2 736.5,755.2 744.5,756.0 752.5,757.3 760.5,758.8 768.5,760.2 776.5,763.6 784.5,758.1 792.5,762.3 800.5,754.2 808.5,757.3 816.5,770.2 824.5,771.7 832.5,759.4 840.5,755.2 848.5,758.1 856.5,761.3 864.5,761.3 872.5,759.4 880.5,760.2 888.5,758.3 896.5,759.4 904.5,755.2 912.5,733.1 920.5,734.3 928.5,747.3 936.5,752.1 944.5,746.7 952.5,752.5 960.5,759.4 968.5,756.0 976.5,760.2 984.5,758.3 992.5,757.3 1000.5,756.0 1008.5,755.6 1016.5,758.3 1024.5,753.1 1032.5,748.3 1040.5,734.3 1048.5,736.4 1056.5,723.9 1064.5,715.5 1072.5,732.2 1080.5,730.2 1088.5,730.2 1096.5,727.4 1104.5,721.2 1112.5,727.4 1120.5,724.3 1128.5,728.1 1136.5,741.0 1144.5,742.5 1152.5,738.3 1160.5,740.0 1168.5,740.4 1176.5,734.3 1184.5,737.3 1192.5,741.0 1200.5,736.8 1208.5,730.2 1216.5,728.1 1224.5,729.5 1232.5,727.4 1240.5,726.0 1248.5,737.9 1256.5,739.3 1264.5,739.3 1272.5,736.4 1280.5,735.2 1288.5,735.2 1296.5,736.4 1304.5,736.4 1312.5,723.3 1320.5,721.8 1328.5,723.9 1336.5,728.1 1344.5,719.1 1352.5,718.0 1360.5,717.0 1368.5,726.0 1376.5,721.2 1384.5,726.0 1392.5,711.1 1400.5,711.4 1408.5,716.4 1416.5,714.3" fill="none" stroke="#1e90ff" stroke-width="1" shape-rendering="crispEdges"/>
<g fill="#000">
<rect x="1589" y="61" width="3" height="1"/>
<text transform="translate(1594,65) scale(0.92,1)" font-size="10" fill="#000" >28714.5</text>
<rect x="1589" y="94" width="3" height="1"/>
<text transform="translate(1594,98) scale(0.92,1)" font-size="10" fill="#000" >28382.0</text>
<rect x="1589" y="127" width="3" height="1"/>
<text transform="translate(1594,131) scale(0.92,1)" font-size="10" fill="#000" >28059.0</text>
<rect x="1589" y="194" width="3" height="1"/>
<text transform="translate(1594,198) scale(0.92,1)" font-size="10" fill="#000" >27394.0</text>
<rect x="1589" y="226" width="3" height="1"/>
<text transform="translate(1594,230) scale(0.92,1)" font-size="10" fill="#000" >27071.0</text>
<rect x="1589" y="290" width="3" height="1"/>
<text transform="translate(1594,294) scale(0.92,1)" font-size="10" fill="#000" >26415.5</text>
<rect x="1589" y="325" width="3" height="1"/>
<text transform="translate(1594,329) scale(0.92,1)" font-size="10" fill="#000" >26083.0</text>
<rect x="1589" y="358" width="3" height="1"/>
<text transform="translate(1594,362) scale(0.92,1)" font-size="10" fill="#000" >25750.5</text>
<rect x="1589" y="391" width="3" height="1"/>
<text transform="translate(1594,395) scale(0.92,1)" font-size="10" fill="#000" >25427.5</text>
<rect x="1589" y="424" width="3" height="1"/>
<text transform="translate(1594,428) scale(0.92,1)" font-size="10" fill="#000" >25095.0</text>
<rect x="1589" y="457" width="3" height="1"/>
<text transform="translate(1594,461) scale(0.92,1)" font-size="10" fill="#000" >24762.5</text>
<rect x="1589" y="490" width="3" height="1"/>
<text transform="translate(1594,494) scale(0.92,1)" font-size="10" fill="#000" >24439.5</text>
<rect x="1589" y="497" width="2" height="1"/>
<rect x="1589" y="568" width="2" height="1"/>
<rect x="1589" y="667" width="2" height="1"/>
<text transform="translate(1592,506.0) scale(0.92,1)" font-size="10" fill="#000" >376.07</text>
<text transform="translate(1592,572.3000000000001) scale(0.92,1)" font-size="10" fill="#000" >0.00</text>
<text transform="translate(1592,665.6) scale(0.92,1)" font-size="10" fill="#000" >-517.93</text>
<text transform="translate(1592,681.6) scale(0.92,1)" font-size="10" fill="#000" >100</text>
<text transform="translate(1592,702.2) scale(0.92,1)" font-size="10" fill="#000" >80</text>
<text transform="translate(1592,740.9) scale(0.92,1)" font-size="10" fill="#000" >50</text>
<text transform="translate(1592,788.1) scale(0.92,1)" font-size="10" fill="#000" >15</text>
<text transform="translate(1592,801.0) scale(0.92,1)" font-size="10" fill="#000" >0</text>
<rect x="1589" y="672" width="2" height="1"/><rect x="1589" y="803" width="2" height="1"/>
</g>
<rect x="1589" y="157" width="39" height="10" fill="#ff0000"/>
<text transform="translate(1592,165.6) scale(0.92,1)" font-size="10" fill="#fff" >27706.0</text>
<rect x="1589" y="184" width="39" height="10" fill="#ff0000"/>
<text transform="translate(1592,192.6) scale(0.92,1)" font-size="10" fill="#fff" >27437.2</text>
<rect x="1589" y="201" width="39" height="10" fill="#000000"/>
<text transform="translate(1592,209.6) scale(0.92,1)" font-size="10" fill="#fff" >27265.5</text>
<rect x="1589" y="233" width="39" height="10" fill="#008000"/>
<text transform="translate(1592,241.6) scale(0.92,1)" font-size="10" fill="#fff" >26949.5</text>
<rect x="1589" y="256" width="39" height="10" fill="#0000ff"/>
<text transform="translate(1592,264.6) scale(0.92,1)" font-size="10" fill="#fff" >26720.5</text>
<rect x="1589" y="293" width="39" height="10" fill="#0000ff"/>
<text transform="translate(1592,301.6) scale(0.92,1)" font-size="10" fill="#fff" >26352.2</text>
<g fill="#000">
<text transform="translate(-1,817) scale(0.95,1)" font-size="10" fill="#000" >30 Jul 2018</text>
<rect x="64" y="805" width="1" height="3"/>
<text transform="translate(63,817) scale(0.95,1)" font-size="10" fill="#000" >3 Aug 01:15</text>
<rect x="128" y="805" width="1" height="3"/>
<text transform="translate(127,817) scale(0.95,1)" font-size="10" fill="#000" >9 Aug 01:15</text>
<rect x="192" y="805" width="1" height="3"/>
<text transform="translate(191,817) scale(0.95,1)" font-size="10" fill="#000" >15 Aug 01:15</text>
<rect x="256" y="805" width="1" height="3"/>
<text transform="translate(255,817) scale(0.95,1)" font-size="10" fill="#000" >21 Aug 01:15</text>
<rect x="320" y="805" width="1" height="3"/>
<text transform="translate(319,817) scale(0.95,1)" font-size="10" fill="#000" >27 Aug 01:15</text>
<rect x="384" y="805" width="1" height="3"/>
<text transform="translate(383,817) scale(0.95,1)" font-size="10" fill="#000" >31 Aug 01:15</text>
<rect x="448" y="805" width="1" height="3"/>
<text transform="translate(447,817) scale(0.95,1)" font-size="10" fill="#000" >6 Sep 01:15</text>
<rect x="512" y="805" width="1" height="3"/>
<text transform="translate(511,817) scale(0.95,1)" font-size="10" fill="#000" >12 Sep 01:15</text>
<rect x="576" y="805" width="1" height="3"/>
<text transform="translate(575,817) scale(0.95,1)" font-size="10" fill="#000" >18 Sep 01:15</text>
<rect x="640" y="805" width="1" height="3"/>
<text transform="translate(639,817) scale(0.95,1)" font-size="10" fill="#000" >24 Sep 01:15</text>
<rect x="704" y="805" width="1" height="3"/>
<text transform="translate(703,817) scale(0.95,1)" font-size="10" fill="#000" >2 Oct 01:15</text>
<rect x="768" y="805" width="1" height="3"/>
<text transform="translate(767,817) scale(0.95,1)" font-size="10" fill="#000" >8 Oct 01:15</text>
<rect x="832" y="805" width="1" height="3"/>
<text transform="translate(831,817) scale(0.95,1)" font-size="10" fill="#000" >12 Oct 01:15</text>
<rect x="896" y="805" width="1" height="3"/>
<text transform="translate(895,817) scale(0.95,1)" font-size="10" fill="#000" >19 Oct 01:15</text>
<rect x="960" y="805" width="1" height="3"/>
<text transform="translate(959,817) scale(0.95,1)" font-size="10" fill="#000" >25 Oct 01:15</text>
<rect x="1024" y="805" width="1" height="3"/>
<text transform="translate(1023,817) scale(0.95,1)" font-size="10" fill="#000" >31 Oct 01:15</text>
<rect x="1088" y="805" width="1" height="3"/>
<text transform="translate(1087,817) scale(0.95,1)" font-size="10" fill="#000" >6 Nov 01:15</text>
<rect x="1152" y="805" width="1" height="3"/>
<text transform="translate(1151,817) scale(0.95,1)" font-size="10" fill="#000" >12 Nov 01:15</text>
<rect x="1216" y="805" width="1" height="3"/>
<text transform="translate(1215,817) scale(0.95,1)" font-size="10" fill="#000" >16 Nov 01:15</text>
<rect x="1280" y="805" width="1" height="3"/>
<text transform="translate(1279,817) scale(0.95,1)" font-size="10" fill="#000" >22 Nov 01:15</text>
<rect x="1344" y="805" width="1" height="3"/>
<text transform="translate(1343,817) scale(0.95,1)" font-size="10" fill="#000" >28 Nov 01:15</text>
<rect x="1408" y="805" width="1" height="3"/>
<text transform="translate(1407,817) scale(0.95,1)" font-size="10" fill="#000" >4 Dec 01:15</text>
</g>
<path d="M1423,29 L1432,29 L1427.5,34 Z" fill="#c0c0c0"/>
<path d="M3,39 L10,39 L6.5,35 Z" fill="#000"/>
<text x="15" y="40.3" font-size="10" fill="#000" xml:space="preserve" textLength="188" lengthAdjust="spacingAndGlyphs">HK50-,H4  27133.0 27291.0 27036.5 27265.5</text>
<text transform="translate(4.4,508) scale(1.0,1)" font-size="9.3" fill="#000" >MACD(12,26,9) 335.43 245.03</text>
<text transform="translate(4.4,683) scale(0.99,1)" font-size="9.3" fill="#000" >RSI(14) 68.1180</text>
<rect x="3" y="46" width="220" height="68" fill="#fff"/>
<defs><linearGradient id="rg" x1="0" y1="0" x2="0" y2="1"><stop offset="0" stop-color="#e23c3c"/><stop offset="1" stop-color="#b00000"/></linearGradient><linearGradient id="rt" x1="0" y1="0" x2="0" y2="1"><stop offset="0" stop-color="#fa5252"/><stop offset="1" stop-color="#d82828"/></linearGradient></defs>
<rect x="3" y="48" width="52" height="24" fill="url(#rt)"/>
<rect x="170" y="48" width="52" height="24" fill="url(#rt)"/>
<rect x="3" y="72" width="109" height="40" fill="url(#rg)"/>
<rect x="114" y="72" width="108" height="40" fill="url(#rg)"/>
<rect x="7" y="71" width="44" height="1" fill="#b01818"/><rect x="174" y="71" width="44" height="1" fill="#b01818"/>
<text x="15" y="64" font-size="11.5" fill="#fff" textLength="26" lengthAdjust="spacingAndGlyphs">SELL</text>
<text x="183" y="64" font-size="11.5" fill="#fff" textLength="24" lengthAdjust="spacingAndGlyphs">BUY</text>
<rect x="57.5" y="48.5" width="110" height="21" fill="#fff" stroke="#a8a8a8"/>
<defs><linearGradient id="sg" x1="0" y1="0" x2="0" y2="1"><stop offset="0" stop-color="#f2f2f2"/><stop offset="1" stop-color="#d2d2d2"/></linearGradient></defs>
<rect x="58.5" y="49.5" width="20" height="19" fill="url(#sg)" stroke="#b4b4b4"/><rect x="146.5" y="49.5" width="20" height="19" fill="url(#sg)" stroke="#b4b4b4"/>
<path d="M65,58 L70,58 L67.5,61 Z" fill="#4060b0"/><path d="M155,61 L160,61 L157.5,58 Z" fill="#4060b0"/>
<text x="143" y="63" font-size="12" fill="#000" text-anchor="end">1.00</text>
<text x="19" y="103" font-size="13" font-weight="bold" fill="#fff" textLength="35" lengthAdjust="spacingAndGlyphs">27264</text>
<circle cx="60.5" cy="100.5" r="2.3" fill="#fff"/><text transform="translate(63.5,103) scale(0.97,1)" font-size="33.5" fill="#fff">0</text>
<text x="129" y="103" font-size="13" font-weight="bold" fill="#fff" textLength="35" lengthAdjust="spacingAndGlyphs">27277</text>
<circle cx="171" cy="100.5" r="2.3" fill="#fff"/><text transform="translate(174,103) scale(0.97,1)" font-size="33.5" fill="#fff">0</text>
<g fill="none" stroke="#000" stroke-width="1" shape-rendering="crispEdges"><polyline points="0,6.5 2,6.5"/><polyline points="6,5 7,6.5"/><polyline points="12,5 11,6.5"/><polyline points="4.5,7.5 13.5,7.5 13.5,12 4.5,12 4.5,7.5"/><polyline points="4.5,9.75 13.5,9.75"/><polyline points="9,7.5 9,16"/><polyline points="3,14 15,14"/><polyline points="80.5,4.5 79.5,6.5"/><polyline points="77.5,6.5 84.5,6.5 84.5,15.5 77.5,15.5 77.5,6.5"/><polyline points="77.5,9.5 84.5,9.5"/><polyline points="77.5,12.5 84.5,12.5"/><polyline points="87.5,6.5 91,6.5"/><polyline points="86.5,9.5 91.5,9.5"/><polyline points="89.5,9.5 87.5,14.5 91.5,13.5"/><polyline points="92,8.5 97,8.5 96.5,15.5 95,15.5"/><polyline points="94.5,5 94.5,10 92,15.5"/><polyline points="103.5,4.5 104,6"/><polyline points="98,7.5 109,7.5"/><polyline points="101,8.5 99.5,10.5"/><polyline points="106,8.5 108,10.5"/><polyline points="100.5,11 107.5,16"/><polyline points="106.5,11 99,16"/><polyline points="112.5,5.5 120,5.5 120,10 112.5,10 112.5,5.5"/><polyline points="112.5,7.75 120,7.75"/><polyline points="112.5,11 110.5,13.5"/><polyline points="112,11.5 121.5,11.5 121,16 119.5,15.5"/><polyline points="115.5,11.5 112.5,16"/><polyline points="118.5,11.5 115.5,16"/></g>
<rect x="130" y="1" width="1" height="21" fill="#a0a0a0"/><rect x="131" y="1" width="1" height="21" fill="#fff"/><rect x="134" y="2" width="4" height="1" fill="#8c8c8c"/><rect x="134" y="4" width="4" height="1" fill="#8c8c8c"/><rect x="134" y="6" width="4" height="1" fill="#8c8c8c"/><rect x="134" y="8" width="4" height="1" fill="#8c8c8c"/><rect x="134" y="10" width="4" height="1" fill="#8c8c8c"/><rect x="134" y="12" width="4" height="1" fill="#8c8c8c"/><rect x="134" y="14" width="4" height="1" fill="#8c8c8c"/><rect x="134" y="16" width="4" height="1" fill="#8c8c8c"/><rect x="134" y="18" width="4" height="1" fill="#8c8c8c"/><rect x="134" y="20" width="4" height="1" fill="#8c8c8c"/><path d="M27.5,13.6 L33.2,5.3 L42.8,13.4 L35,19.6 Z" fill="#c89018" stroke="#a06010" stroke-width="1"/><path d="M29,12.6 L33.6,6.3 L41,12.6 L35,17.4 Z" fill="#f0d040"/><path d="M30,14 L35,18 L41.5,13.5" fill="none" stroke="#f8e8b0" stroke-width="0.8"/><path d="M55,10 L69.5,10 L63,19.5 Z" fill="#f0d850" stroke="#c8a020" stroke-width="0.8"/><ellipse cx="62" cy="8.5" rx="8" ry="3" fill="#5ab0e0" stroke="#3088c0" stroke-width="0.8"/><ellipse cx="62" cy="6.5" rx="4" ry="2.8" fill="#70c0ea"/><circle cx="66.4" cy="15.7" r="3.9" fill="#e02010"/><rect x="65" y="14.3" width="2.8" height="2.8" fill="#fff"/><rect x="148" y="6" width="1" height="14" fill="#505050"/><path d="M146.5,8 L148.5,5.5 L150.5,8 Z" fill="#505050"/><rect x="146" y="17" width="14" height="1" fill="#505050"/><path d="M158,15.5 L160.5,17.5 L158,19.5 Z" fill="#505050"/><path d="M154.5,7.5 V15.5 M154.5,8.5 H157 M154.5,14.5 H152" stroke="#10a010" stroke-width="1.2" fill="none"/><rect x="168" y="0" width="25" height="22" fill="#f9f9f9"/><rect x="168" y="0" width="25" height="1" fill="#8a8a8a"/><rect x="168" y="0" width="1" height="22" fill="#8a8a8a"/><rect x="168" y="22" width="26" height="1" fill="#fff"/><rect x="176" y="6" width="1" height="14" fill="#505050"/><path d="M174.5,8 L176.5,5.5 L178.5,8 Z" fill="#505050"/><rect x="174" y="17" width="14" height="1" fill="#505050"/><path d="M186,15.5 L188.5,17.5 L186,19.5 Z" fill="#505050"/><rect x="182" y="4" width="1" height="12" fill="#10a010"/><rect x="180.5" y="6.5" width="4" height="7" fill="#30e030" stroke="#10a010"/><rect x="204" y="6" width="1" height="14" fill="#505050"/><path d="M202.5,8 L204.5,5.5 L206.5,8 Z" fill="#505050"/><rect x="202" y="17" width="14" height="1" fill="#505050"/><path d="M214,15.5 L216.5,17.5 L214,19.5 Z" fill="#505050"/><path d="M202.5,14.5 Q208.5,6 214.5,13" stroke="#30a030" stroke-width="1" fill="none"/><rect x="225" y="1" width="1" height="21" fill="#a0a0a0"/><rect x="226" y="1" width="1" height="21" fill="#fff"/><path d="M243,13 L249,18.5" stroke="#b08010" stroke-width="3.2"/><path d="M243,13 L249,18.5" stroke="#f0d860" stroke-width="1.8"/><circle cx="240" cy="9.8" r="5.5" fill="#d8eefa" stroke="#3478c0" stroke-width="1.2"/><rect x="237" y="9" width="6" height="1.8" fill="#3a7aaa"/><rect x="239.1" y="6.8" width="1.8" height="6" fill="#3a7aaa"/><path d="M271,13 L277,18.5" stroke="#b08010" stroke-width="3.2"/><path d="M271,13 L277,18.5" stroke="#f0d860" stroke-width="1.8"/><circle cx="268" cy="9.8" r="5.5" fill="#d8eefa" stroke="#3478c0" stroke-width="1.2"/><rect x="265" y="9" width="6" height="1.8" fill="#3a7aaa"/><rect x="290" y="4" width="8" height="8" fill="#30a020"/><rect x="298" y="4" width="8" height="8" fill="#2050c8"/><rect x="290" y="12" width="8" height="8" fill="#2050c8"/><rect x="298" y="12" width="8" height="8" fill="#30a020"/><rect x="291.5" y="7.5" width="5" height="1" fill="#fff" opacity="0.85"/><rect x="291.5" y="9" width="1" height="2" fill="#fff" opacity="0.85"/><rect x="295.5" y="9" width="1" height="2" fill="#fff" opacity="0.85"/><rect x="291" y="4.8" width="1" height="1" fill="#fff" opacity="0.7"/><rect x="299.5" y="7.5" width="5" height="1" fill="#fff" opacity="0.85"/><rect x="299.5" y="9" width="1" height="2" fill="#fff" opacity="0.85"/><rect x="303.5" y="9" width="1" height="2" fill="#fff" opacity="0.85"/><rect x="299" y="4.8" width="1" height="1" fill="#fff" opacity="0.7"/><rect x="291.5" y="15.5" width="5" height="1" fill="#fff" opacity="0.85"/><rect x="291.5" y="17" width="1" height="2" fill="#fff" opacity="0.85"/><rect x="295.5" y="17" width="1" height="2" fill="#fff" opacity="0.85"/><rect x="291" y="12.8" width="1" height="1" fill="#fff" opacity="0.7"/><rect x="299.5" y="15.5" width="5" height="1" fill="#fff" opacity="0.85"/><rect x="299.5" y="17" width="1" height="2" fill="#fff" opacity="0.85"/><rect x="303.5" y="17" width="1" height="2" fill="#fff" opacity="0.85"/><rect x="299" y="12.8" width="1" height="1" fill="#fff" opacity="0.7"/><rect x="315" y="1" width="1" height="21" fill="#a0a0a0"/><rect x="316" y="1" width="1" height="21" fill="#fff"/><rect x="320" y="0" width="25" height="22" fill="#f9f9f9"/><rect x="320" y="0" width="25" height="1" fill="#8a8a8a"/><rect x="320" y="0" width="1" height="22" fill="#8a8a8a"/><rect x="320" y="22" width="26" height="1" fill="#fff"/><rect x="328" y="6" width="1" height="14" fill="#505050"/><path d="M326.5,8 L328.5,5.5 L330.5,8 Z" fill="#505050"/><rect x="326" y="17" width="14" height="1" fill="#505050"/><path d="M338,15.5 L340.5,17.5 L338,19.5 Z" fill="#505050"/><path d="M333.5,8.5 L336.5,11.5 L333.5,14.5 Z" fill="#90e090" stroke="#10a010" stroke-width="1"/><rect x="348" y="0" width="25" height="22" fill="#f9f9f9"/><rect x="348" y="0" width="25" height="1" fill="#8a8a8a"/><rect x="348" y="0" width="1" height="22" fill="#8a8a8a"/><rect x="348" y="22" width="26" height="1" fill="#fff"/><rect x="356" y="6" width="1" height="14" fill="#505050"/><path d="M354.5,8 L356.5,5.5 L358.5,8 Z" fill="#505050"/><rect x="354" y="17" width="14" height="1" fill="#505050"/><path d="M366,15.5 L368.5,17.5 L366,19.5 Z" fill="#505050"/><rect x="362" y="6" width="1" height="10" fill="#10609a"/><path d="M364,11.5 L368,11.5 M364,11.5 L366,9.8 M364,11.5 L366,13.2" stroke="#e04010" stroke-width="1.2"/><rect x="377" y="1" width="1" height="21" fill="#a0a0a0"/><rect x="378" y="1" width="1" height="21" fill="#fff"/><path d="M387.5,4.5 H396 L398.5,7 V17.5 H387.5 Z" fill="#fff" stroke="#808080" stroke-width="1"/><path d="M397,10 V21.5 M391.2,15.8 H402.8" stroke="#108010" stroke-width="4"/><path d="M397,10.8 V20.7 M392,15.8 H402" stroke="#50e050" stroke-width="2.2"/><path d="M409,11 L414.5,11 L411.75,14 Z" fill="#000"/><circle cx="432.9" cy="11.8" r="6.8" fill="#fff" stroke="#1060c0" stroke-width="2.4"/><path d="M432.5,8 V12 H435.5" stroke="#202020" stroke-width="1.2" fill="none"/><path d="M448,11 L453.5,11 L450.75,14 Z" fill="#000"/><rect x="464.5" y="5.5" width="15" height="13" fill="#fff" stroke="#2f6cc0" stroke-width="1"/><rect x="465" y="6" width="14" height="1.8" fill="#5b90d8"/><rect x="465" y="11.7" width="14" height="1" fill="#2f6cc0"/><path d="M466,10.3 L469,10 L471.5,8.8 L474,9.8 L477.5,9" stroke="#a02010" stroke-width="1" fill="none"/><path d="M467,16.3 L469.5,15.5 L471.5,16 L474,14.3 L477,16.5" stroke="#108010" stroke-width="1" fill="none"/><path d="M487,11 L492.5,11 L489.75,14 Z" fill="#000"/><rect x="498" y="0" width="1" height="24" fill="#a0a0a0"/><rect x="499" y="0" width="1" height="24" fill="#fff"/><rect x="502" y="2" width="4" height="1" fill="#8c8c8c"/><rect x="502" y="4" width="4" height="1" fill="#8c8c8c"/><rect x="502" y="6" width="4" height="1" fill="#8c8c8c"/><rect x="502" y="8" width="4" height="1" fill="#8c8c8c"/><rect x="502" y="10" width="4" height="1" fill="#8c8c8c"/><rect x="502" y="12" width="4" height="1" fill="#8c8c8c"/><rect x="502" y="14" width="4" height="1" fill="#8c8c8c"/><rect x="502" y="16" width="4" height="1" fill="#8c8c8c"/><rect x="502" y="18" width="4" height="1" fill="#8c8c8c"/><rect x="502" y="20" width="4" height="1" fill="#8c8c8c"/><rect x="508" y="0" width="25" height="22" fill="#f9f9f9"/><rect x="508" y="0" width="25" height="1" fill="#8a8a8a"/><rect x="508" y="0" width="1" height="22" fill="#8a8a8a"/><rect x="508" y="22" width="26" height="1" fill="#fff"/><path d="M516,5 L524.3,12.5 L520.8,12.8 L523,18 L521.3,18.8 L519,13.5 L516,16.3 Z" fill="#454545"/><path d="M541,12.5 H547.5 M549.5,12.5 H556 M548.5,5 V11.5 M548.5,13.5 V20" stroke="#454545" stroke-width="1" fill="none" shape-rendering="crispEdges"/><rect x="565" y="1" width="1" height="21" fill="#a0a0a0"/><rect x="566" y="1" width="1" height="21" fill="#fff"/><rect x="582" y="6" width="1" height="13" fill="#454545"/><rect x="605" y="12" width="12" height="1" fill="#454545"/><path d="M633,18.7 L645,6.8" stroke="#454545" stroke-width="1"/><path d="M659,13.5 L666,7 M660,17.5 L673,5.5 M665,18.5 L673,11" stroke="#454545" stroke-width="1" fill="none"/><text x="669.5" y="20.5" font-size="6.5" font-weight="bold" fill="#454545">E</text><line x1="688" y1="5.5" x2="701" y2="5.5" stroke="#454545" stroke-dasharray="1 1.2"/><line x1="688" y1="8.5" x2="701" y2="8.5" stroke="#454545" stroke-dasharray="1 1.2"/><line x1="688" y1="12.5" x2="701" y2="12.5" stroke="#454545" stroke-dasharray="1 1.2"/><line x1="688" y1="16.5" x2="696" y2="16.5" stroke="#454545" stroke-dasharray="1 1.2"/><text x="697" y="20.5" font-size="6.5" font-weight="bold" fill="#454545">F</text><text x="718" y="17" font-size="12.5" font-weight="bold" fill="#454545">A</text><rect x="745.5" y="6" width="11.5" height="12" fill="none" stroke="#454545" stroke-dasharray="1 1.2"/><text x="747" y="16.5" font-size="11" font-weight="bold" fill="#454545">T</text><path d="M775,8 L778,5.5 L781,8 L778,10 Z M781,15.5 L784,13.5 L787,15.5 L784,18.5 Z" fill="#454545"/><path d="M774.5,11 L777.5,13.5 L782,9" stroke="#454545" stroke-width="1.2" fill="none"/><path d="M792.6,10.7 L798.2,10.7 L795.4,14 Z" fill="#000"/><rect x="804" y="0" width="1" height="24" fill="#a0a0a0"/><rect x="805" y="0" width="1" height="24" fill="#fff"/><rect x="808" y="2" width="4" height="1" fill="#8c8c8c"/><rect x="808" y="4" width="4" height="1" fill="#8c8c8c"/><rect x="808" y="6" width="4" height="1" fill="#8c8c8c"/><rect x="808" y="8" width="4" height="1" fill="#8c8c8c"/><rect x="808" y="10" width="4" height="1" fill="#8c8c8c"/><rect x="808" y="12" width="4" height="1" fill="#8c8c8c"/><rect x="808" y="14" width="4" height="1" fill="#8c8c8c"/><rect x="808" y="16" width="4" height="1" fill="#8c8c8c"/><rect x="808" y="18" width="4" height="1" fill="#8c8c8c"/><rect x="808" y="20" width="4" height="1" fill="#8c8c8c"/><rect x="954" y="0" width="26" height="22" fill="#f9f9f9"/><rect x="954" y="0" width="26" height="1" fill="#8a8a8a"/><rect x="954" y="0" width="1" height="22" fill="#8a8a8a"/><rect x="954" y="22" width="27" height="1" fill="#fff"/><rect x="1065" y="0" width="1" height="24" fill="#a0a0a0"/><rect x="1066" y="0" width="1" height="24" fill="#fff"/><path d="M1584,13 L1580.5,16.8" stroke="#1e54c8" stroke-width="2.6" stroke-linecap="round"/><circle cx="1587.5" cy="9.4" r="3.9" fill="#f4f4ff" stroke="#2a62d8" stroke-width="1.5"/><ellipse cx="1620" cy="9.2" rx="6.6" ry="4.6" fill="#f4f4f8" stroke="#7a7a7a" stroke-width="0.9"/><path d="M1622.5,13.5 L1623.5,15.5 L1620.5,13.8" fill="#555" stroke="#555" stroke-width="0.6"/><ellipse cx="1611.1" cy="13.1" rx="5.1" ry="3.8" fill="#f4f4f8" stroke="#7a7a7a" stroke-width="0.9"/><path d="M1609,16.5 L1608.5,18.5 L1611.5,16.8" fill="#555" stroke="#555" stroke-width="0.6"/>
<text transform="translate(819.5,16) scale(0.93,1)" font-size="9.8" fill="#333" >M1</text>
<text transform="translate(846.5,16) scale(0.93,1)" font-size="9.8" fill="#333" >M5</text>
<text transform="translate(873.5,16) scale(0.93,1)" font-size="9.8" fill="#333" >M15</text>
<text transform="translate(901.5,16) scale(0.93,1)" font-size="9.8" fill="#333" >M30</text>
<text transform="translate(932.5,16) scale(0.93,1)" font-size="9.8" fill="#333" >H1</text>
<text transform="translate(959.5,16) scale(0.93,1)" font-size="9.8" fill="#333" >H4</text>
<text transform="translate(988.5,16) scale(0.93,1)" font-size="9.8" fill="#333" >D1</text>
<text transform="translate(1015.5,16) scale(0.93,1)" font-size="9.8" fill="#333" >W1</text>
<text transform="translate(1042.5,16) scale(0.93,1)" font-size="9.8" fill="#333" >MN</text>
</svg></body></html>
